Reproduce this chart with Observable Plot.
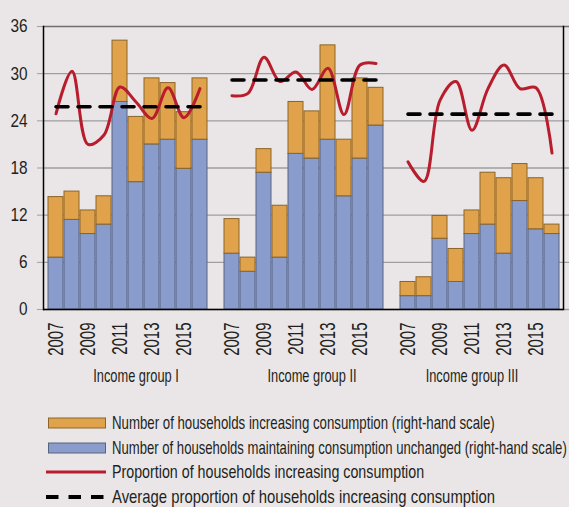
<!DOCTYPE html>
<html><head><meta charset="utf-8">
<script src="https://cdn.jsdelivr.net/npm/d3@7"></script>
<script src="https://cdn.jsdelivr.net/npm/@observablehq/plot@0.6"></script>
<style>
html,body{margin:0;padding:0;background:#EAE6E7;}
#chart{width:569px;height:507px;overflow:hidden;background:#EAE6E7;font-family:"Liberation Sans",Arial,sans-serif;color:#231f20;}
#legend{margin-left:46px;margin-top:11px;}
.row{display:flex;align-items:center;height:24.5px;font-size:19px;white-space:nowrap;}
.row svg{margin-right:6px;flex:none;}
.row span{display:inline-block;flex:none;transform-origin:0 50%;}
</style></head><body><div id="chart"></div>
<script>
const groupIds = ["I", "II", "III"];
const groupLabels = ["Income group I", "Income group II", "Income group III"];
const years = [2007, 2008, 2009, 2010, 2011, 2012, 2013, 2014, 2015, 2016];
const yTicks = [0, 6, 12, 18, 24, 30, 36];

// Number of households maintaining consumption unchanged
const unchanged = {
  I:   [6.6, 11.4, 9.6, 10.8, 26.4, 16.2, 21.0, 21.6, 17.9, 21.6],
  II:  [7.1, 4.8, 17.4, 6.6, 19.8, 19.2, 21.6, 14.4, 19.2, 23.4],
  III: [1.7, 1.7, 9.0, 3.5, 9.6, 10.8, 7.1, 13.8, 10.2, 9.6]
};
// Number of households increasing consumption
const increasing = {
  I:   [7.7, 3.6, 3.0, 3.6, 7.8, 8.3, 8.4, 7.2, 7.2, 7.8],
  II:  [4.4, 1.8, 3.0, 6.6, 6.6, 6.0, 12.0, 7.2, 10.2, 4.8],
  III: [1.8, 2.4, 2.9, 4.2, 3.0, 6.6, 9.6, 4.7, 6.5, 1.2]
};
// Proportion of households increasing consumption
const proportion = {
  I:   [24.9, 30.3, 21.0, 22.2, 28.3, 26.4, 24.3, 28.2, 24.4, 28.1],
  II:  [27.2, 27.5, 32.1, 29.0, 30.2, 28.0, 30.7, 24.8, 31.1, 31.3],
  III: [18.8, 16.3, 26.6, 29.0, 22.8, 28.1, 31.1, 28.1, 28.2, 19.9]
};
// Average proportion of households increasing consumption
const average = [25.8, 29.2, 24.85];

const key = (g, y) => g + "|" + y;
const domain = [];
groupIds.forEach((g, i) => {
  years.forEach(y => domain.push(key(g, y)));
  if (i < groupIds.length - 1) domain.push("gap" + i);
});

const bars = [];
const props = [];
groupIds.forEach(g => years.forEach((y, j) => {
  bars.push({key: key(g, y), group: g, unchanged: unchanged[g][j], top: unchanged[g][j] + increasing[g][j]});
  props.push({key: key(g, y), group: g, value: proportion[g][j]});
}));
const avgRows = [];
groupIds.forEach((g, i) => {
  avgRows.push({key: key(g, years[0]), group: g, value: average[i]});
  avgRows.push({key: key(g, years[years.length - 1]), group: g, value: average[i]});
});
const oddKeys = domain.filter(d => !d.startsWith("gap") && (+d.split("|")[1]) % 2 === 1);
const labelKeys = [key("I", 2012), key("II", 2012), key("III", 2011)];

const plot = Plot.plot({
  width: 569,
  height: 400,
  marginLeft: 43,
  marginRight: 6,
  marginTop: 26,
  marginBottom: 91,
  style: {background: "transparent", fontFamily: "'Liberation Sans',Arial,sans-serif", color: "#231f20"},
  x: {type: "band", domain, paddingInner: 0.09, paddingOuter: 0.1, axis: null},
  y: {domain: [0, 36], axis: null},
  marks: [
    Plot.ruleY(yTicks, {stroke: d => d === 36 ? "#6e6e6e" : "#9e9e9e", strokeWidth: 1.3, insetRight: -6}),
    Plot.axisY({ticks: yTicks, tickSize: 6, tickPadding: 10, fontSize: 18.5, stroke: "#9e9e9e", label: null}),
    Plot.barY(bars, {x: "key", y1: 0, y2: "unchanged", fill: "#899CCB", stroke: "#58647f", strokeWidth: 1}),
    Plot.barY(bars, {x: "key", y1: "unchanged", y2: "top", fill: "#E0A34B", stroke: "#8a6429", strokeWidth: 1}),
    Plot.frame({anchor: "left", stroke: "black", strokeWidth: 1.5}),
    Plot.frame({anchor: "right", stroke: "black", strokeWidth: 1.5}),
    Plot.ruleY([0], {stroke: "black", strokeWidth: 1.5}),
    Plot.line(props, {x: "key", y: "value", z: "group", stroke: "#B81D2D", strokeWidth: 3, curve: "catmull-rom"}),
    Plot.line(avgRows, {x: "key", y: "value", z: "group", stroke: "black", strokeWidth: 3.6, strokeDasharray: "12,10"}),
    Plot.axisX({ticks: oddKeys, tickFormat: d => d.split("|")[1], tickRotate: -90, tickSize: 0, tickPadding: 13, fontSize: 22, label: null}),
    Plot.text(groupLabels, {x: (d, i) => labelKeys[i], text: d => d, frameAnchor: "bottom", dy: 72, fontSize: 19})
  ]
});
const chart = document.getElementById("chart");
chart.appendChild(plot);

// condense text glyphs to mimic the narrow typeface of the original
function condense(selector, factor) {
  plot.querySelectorAll(selector).forEach(t => {
    const len = t.getComputedTextLength();
    if (len > 0) {
      t.setAttribute("textLength", (len * factor).toFixed(2));
      t.setAttribute("lengthAdjust", "spacingAndGlyphs");
    }
  });
}
condense('g[aria-label="y-axis tick label"] text', 0.83);
condense('g[aria-label="x-axis tick label"] text', 0.68);
condense('g[aria-label="text"] text', 0.675);

const legendItems = [
  {type: "box", fill: "#E0A34B", stroke: "#8a6429", fit: 383, label: "Number of households increasing consumption (right-hand scale)"},
  {type: "box", fill: "#899CCB", stroke: "#58647f", fit: 455, label: "Number of households maintaining consumption unchanged (right-hand scale)"},
  {type: "line", stroke: "#B81D2D", dash: null, fit: 312, label: "Proportion of households increasing consumption"},
  {type: "line", stroke: "black", dash: "12.5,10", fit: 383, label: "Average proportion of households increasing consumption"}
];
const legend = document.createElement("div");
legend.id = "legend";
chart.appendChild(legend);
legendItems.forEach(it => {
  const row = document.createElement("div");
  row.className = "row";
  const sw = it.type === "box"
    ? `<svg width="60" height="12"><rect x="2.5" y="1" width="57" height="10" fill="${it.fill}" stroke="${it.stroke}"/></svg>`
    : `<svg width="60" height="12"><line x1="0" x2="60" y1="6" y2="6" stroke="${it.stroke}" stroke-width="${it.dash ? 4 : 3}" ${it.dash ? `stroke-dasharray="${it.dash}"` : ""}/></svg>`;
  row.innerHTML = sw + `<span>${it.label}</span>`;
  legend.appendChild(row);
  const span = row.querySelector("span");
  const w = span.getBoundingClientRect().width;
  span.style.transform = `scaleX(${(it.fit / w).toFixed(3)})`;
});
</script></body></html>
